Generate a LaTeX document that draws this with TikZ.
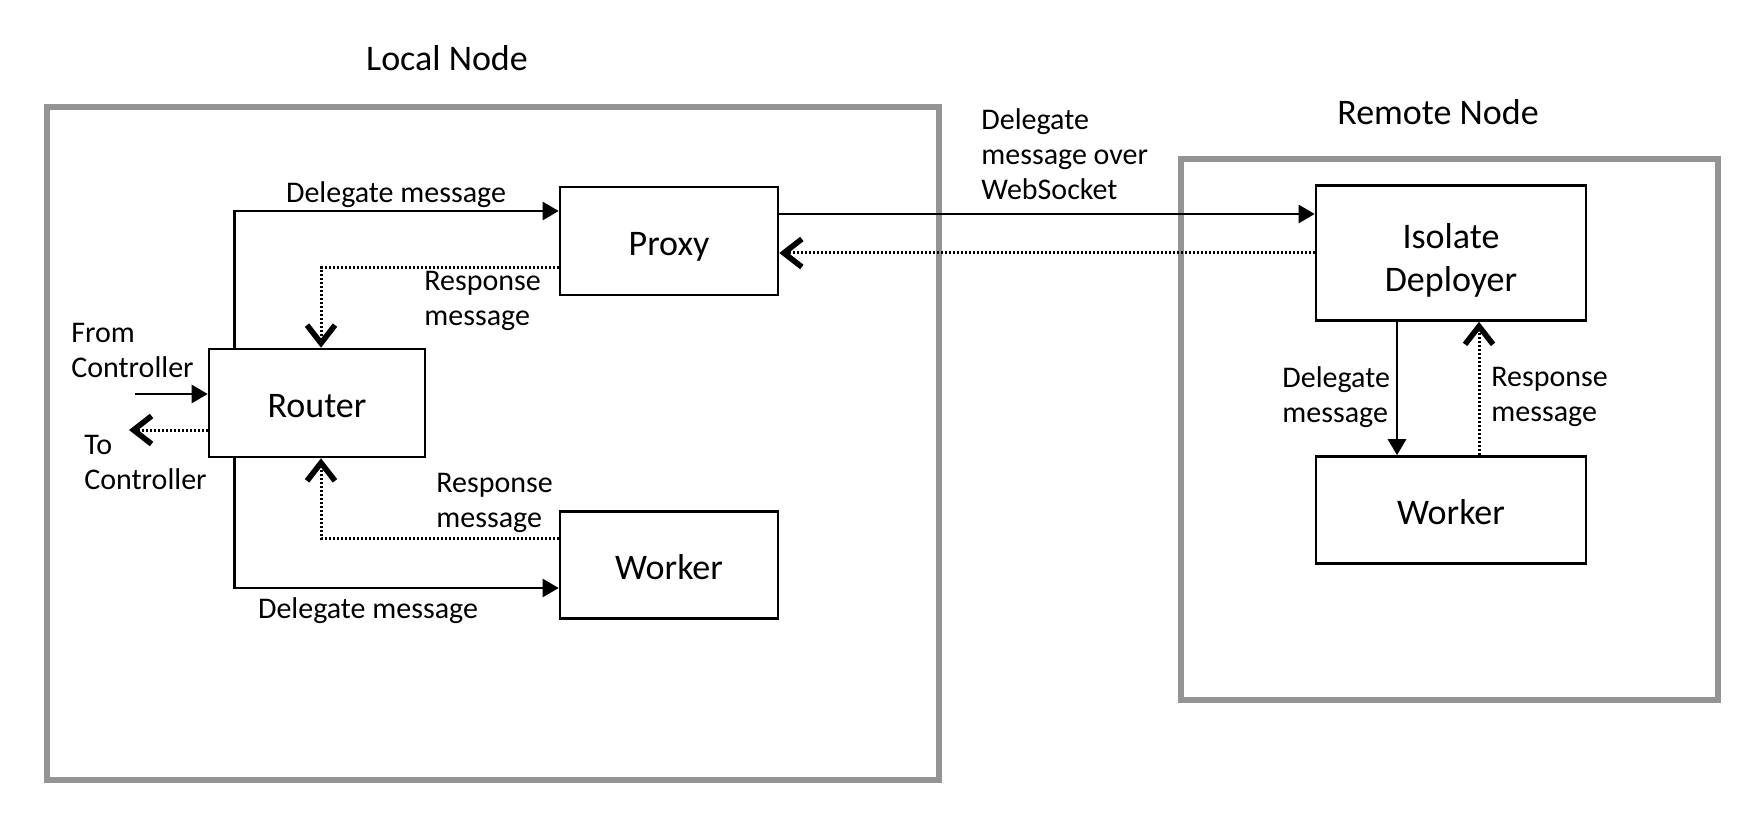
\documentclass[tikz,border=0pt]{standalone}
\usepackage{fontspec}
\setmainfont{Carlito}
\usetikzlibrary{arrows.meta,calc}

\begin{document}
\begin{tikzpicture}[
  x=0.5pt, y=-0.5pt,
  % boxes, frames, texts
  box/.style={draw, line width=1.3pt, inner sep=0pt, align=center,
              font=\fontsize{18}{21.5}\selectfont},
  one/.style={box, text height=17pt, text depth=2.5pt},
  frm/.style={draw=black!42, line width=2.6pt},
  ttl/.style={font=\fontsize{18}{21.5}\selectfont, inner sep=0pt},
  lbl/.style={font=\fontsize{15}{17.5}\selectfont, align=left, inner sep=0pt},
  % arrows: solid = delegate, dotted = response
  dl/.style={-{Triangle[length=8pt,width=9pt]}, line width=1.3pt},
  rs/.style={-{Straight Barb[length=9pt,width=14pt,line width=2.8pt]},
             line width=1.5pt, dash pattern=on 1pt off 1pt},
]
\useasboundingbox (0,0) rectangle (1764,828);

% -- frames -------------------------------------------------
\draw[frm] (47,107) rectangle (939,780);
\draw[frm] (1181,159) rectangle (1718,700);
\node[ttl] (tLocal) at (447,58) {Local Node};
\node[ttl] (tRemote) at (1438,112) {Remote Node};

% -- local node ---------------------------------------------
\node[one, minimum width=109pt, minimum height=54pt] (proxy) at (669,241) {Proxy};
\node[one, minimum width=108pt, minimum height=54pt] (router) at (317,403) {Router};
\node[one, minimum width=109pt, minimum height=53.5pt] (workerL) at (669,565) {Worker};

\draw[dl] ($(router.north west)+(27,0)$) |- ($(proxy.west)+(0,-30)$);
\draw[rs] ($(proxy.west)+(0,27)$) -| ($(router.north)+(4,0)$);
\draw[dl] ($(router.south west)+(27,0)$) |- ($(workerL.west)+(0,23)$);
\draw[rs] ($(workerL.west)+(0,-27)$) -| ($(router.south)+(4,0)$);

\coordinate (fromC) at (135,394);
\coordinate (toC) at (129,430);
\draw[dl] (fromC) -- (fromC -| router.west);
\draw[rs] (toC -| router.west) -- (toC);

\node[lbl] (lDelTop) at (396,195) {Delegate message};
\node[lbl, anchor=west] (lResTop) at (424,301) {Response\\message};
\node[lbl, anchor=west] (lFrom) at (71,350) {From\\Controller};
\node[lbl, anchor=west] (lTo) at (84,462) {To\\Controller};
\node[lbl, anchor=west] (lResBot) at (436,503) {Response\\message};
\node[lbl] (lDelBot) at (368,611) {Delegate message};

% -- remote node --------------------------------------------
\node[box, minimum width=135pt, minimum height=67.5pt] (deployer) at (1451,253)
  {\rule{0pt}{19.5pt}Isolate\\Deployer};
\node[one, minimum width=135pt, minimum height=53.5pt] (workerR) at (1451,510) {Worker};

\coordinate (ws) at ($(proxy.east)+(0,-27)$);
\draw[dl] (ws) -- (ws -| deployer.west);
\draw[rs] (deployer.west) -- (deployer.west -| proxy.east);
\node[lbl, anchor=west] (lWs) at (981,154) {Delegate\\message over\\WebSocket};

\draw[dl] ($(deployer.south)+(-54,0)$) -- ($(workerR.north)+(-54,0)$);
\draw[rs] ($(workerR.north)+(28,0)$) -- ($(deployer.south)+(28,0)$);
\node[lbl, anchor=west] (lDelR) at (1282,397) {Delegate\\message};
\node[lbl, anchor=west] (lResR) at (1491,397) {Response\\message};
\end{tikzpicture}
\end{document}
